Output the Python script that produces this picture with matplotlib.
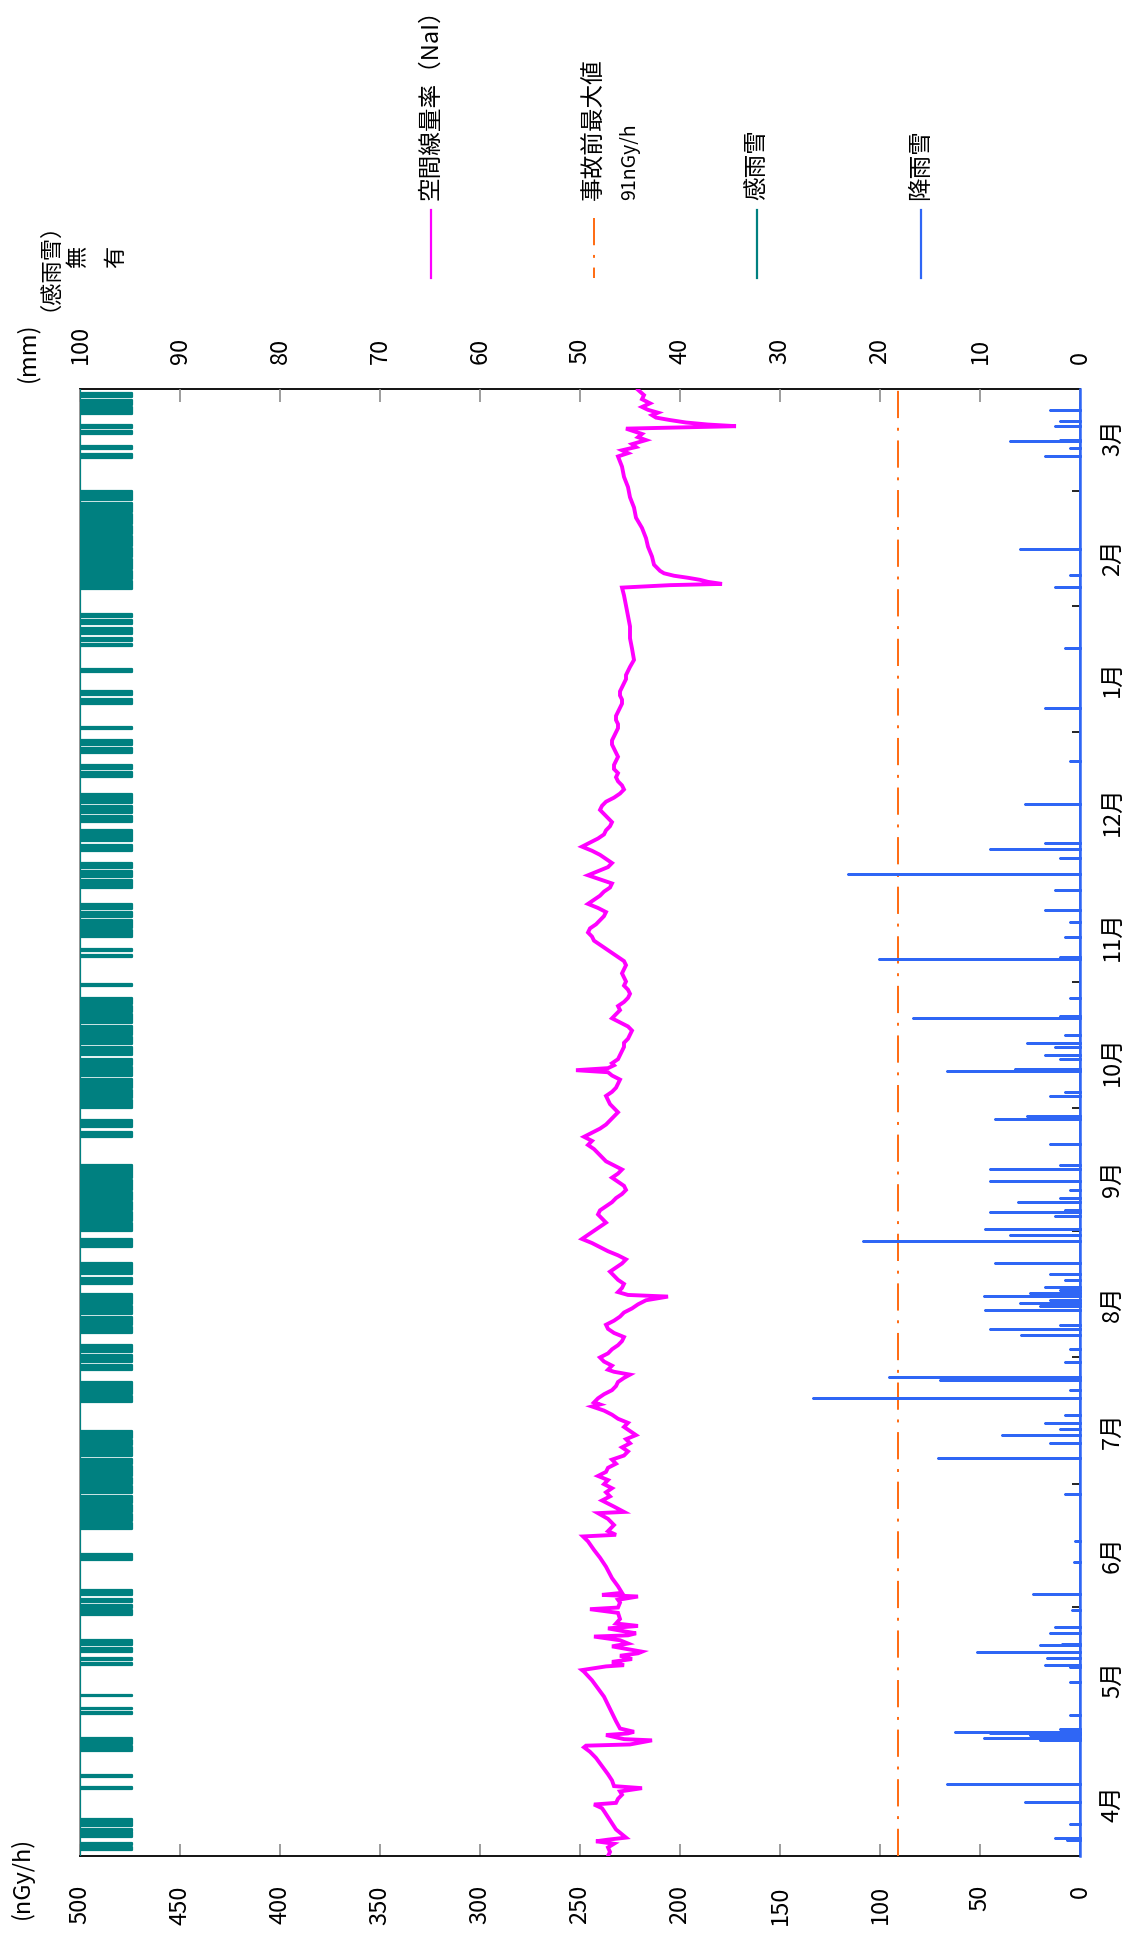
import numpy as np
import matplotlib
matplotlib.use("Agg")
import matplotlib.pyplot as plt
from matplotlib.lines import Line2D

plt.rcParams['font.family'] = ['Noto Sans CJK JP', 'DejaVu Sans']

# ---------------- data ----------------
month_labels = ['4月', '5月', '6月', '7月', '8月', '9月', '10月', '11月', '12月', '1月', '2月', '3月']
month_len = [30, 31, 30, 31, 31, 30, 31, 30, 31, 31, 28, 31]

dose_ticks = [0, 50, 100, 150, 200, 250, 300, 350, 400, 450, 500]
rain_ticks = [0, 10, 20, 30, 40, 50, 60, 70, 80, 90, 100]
pre_accident_max = 91

# air dose rate (nGy/h) : day from Apr 1, value
dose_day = [0.0, 1.0, 2.1, 3.0, 3.6, 4.0, 4.5, 5.3, 6.5, 8.0, 9.5, 11.0, 11.7, 12.6, 13.0, 14.0, 15.0,
            15.8, 16.6, 17.1, 18.5, 20.0, 22.0, 24.0, 25.5, 26.6, 27.0, 27.3, 28.3, 28.6, 29.6, 30.0,
            30.4, 31.2, 33.0, 35.0, 37.0, 39.0, 41.0, 43.0, 45.1, 45.5, 46.4, 46.7, 47.5, 48.2, 49.0,
            49.6, 50.0, 51.3, 52.0, 52.8, 53.7, 54.0, 54.5, 55.0, 55.7, 56.3, 56.9, 58.0, 59.5, 60.4,
            60.8, 62.0, 62.7, 63.5, 63.9, 64.4, 66.0, 68.0, 70.8, 73.0, 74.9, 77.0, 78.2, 78.6, 79.5,
            81.0, 82.5, 83.9, 84.2, 85.5,
            87, 88, 89, 90, 91, 92, 93, 94, 95, 96, 97, 98, 99, 100, 101, 102, 103, 104, 105, 106,
            107, 108, 109, 110, 110.5, 111, 112, 113, 114, 115, 116, 117, 117.8, 118.5, 119, 120,
            121, 122, 123, 124, 125, 126, 127, 128, 129, 130, 131, 132, 133, 134, 135, 136, 136.9,
            137.3, 138, 139, 140, 141, 142, 143, 144, 145, 146, 147, 148, 149, 150, 151, 152, 153,
            154, 155, 156, 157, 158, 159, 160, 161, 162, 163, 164, 165, 166, 167, 168, 169, 170,
            171, 172, 173, 174, 175, 176, 177, 178, 179, 180, 181, 182, 183, 184, 185, 186, 187,
            188, 189, 190, 191, 191.8, 192.3, 192.8, 193.5, 194, 195, 196, 197, 198, 199, 200, 201,
            202, 203, 204, 205, 206, 207, 208, 209, 210, 211, 212, 213, 214, 215, 216, 217, 218,
            219, 220, 221, 222, 223, 224, 225, 226, 227, 228, 229, 230, 231, 232, 233, 234, 235,
            236, 237, 238, 239, 240, 241, 242, 243, 244, 245, 246, 247, 248, 249, 250, 251, 252,
            253, 254, 255, 256, 257, 258, 259, 260, 261, 262, 263, 264, 265, 266, 267, 268, 269,
            270, 271, 272, 273, 274, 275, 276, 277, 278, 279, 280, 281, 282, 283, 284, 285, 286,
            287, 288, 289, 290, 291,
            292.7, 295.5, 298.0, 300.9, 303.5, 306.0, 308.5, 310.4, 311.0, 311.3, 311.8, 312.3, 312.8,
            313.3, 313.9, 314.5, 316.0, 318.0, 320.4, 322.5, 325.0, 327.5, 330.0, 332.5, 335.0, 337.5,
            340.0, 342.5, 343.3, 344.0, 344.8, 345.5, 346.5, 347.2, 348.0, 348.8, 349.3, 349.9, 350.3,
            350.8, 351.4, 352.0, 352.6, 353.2, 353.9, 354.6, 355.5, 356.5, 357.5, 358.8]
dose_val = [236, 235, 236, 233, 242, 236, 227, 229, 232, 234, 236, 238, 239, 243, 232, 231, 229,
            230, 219, 233, 234, 236, 239, 242, 245, 248, 247, 225, 214, 228, 237, 226,
            223, 230, 232, 234, 236, 238, 241, 244, 248, 249, 237, 228, 234, 224, 230,
            221, 219, 234, 226, 230, 243, 226, 222, 228, 236, 221, 232, 230, 231, 245,
            231, 230, 231, 221, 239, 229, 231, 234, 237, 240, 243, 246, 248.5, 232, 236,
            233, 236, 241, 228, 233,
            239, 235, 237, 234, 238, 236, 241, 237, 236, 232, 234, 228, 226, 229, 225, 227, 222, 225, 228, 226,
            231, 234, 238, 244, 240, 243, 241, 238, 234, 232, 231, 228, 225, 233, 236, 234,
            238, 240, 236, 234, 231, 229, 228, 233, 236, 237, 233, 230, 228, 224, 221, 217, 206,
            226, 231, 229, 228, 231, 233, 235, 232, 229, 227, 231, 236, 240, 244, 249, 246, 243,
            240, 237, 239, 241, 240, 237, 234, 232, 229, 227, 228, 231, 234, 231, 229, 233, 237,
            239, 241, 243, 246, 244, 248, 244, 240, 237, 235, 233, 231, 233, 235, 236, 237, 234,
            232, 231, 230, 234, 236, 252, 236, 233, 234, 231, 230, 229, 228, 228, 226, 225,
            224, 226, 230, 234, 232, 230, 231, 228, 226, 225, 226, 228, 227, 228, 229, 228, 227,
            228, 231, 234, 237, 240, 243, 244, 246, 245, 242, 240, 238, 237, 241, 246, 243, 240,
            238, 235, 234, 240, 246, 241, 236, 234, 237, 240, 244, 249, 245, 241, 238, 237, 235,
            234, 236, 238, 240, 239, 237, 233, 230, 228, 229, 231, 232, 231, 233, 233, 232, 231,
            232, 233, 234, 234, 233, 232, 231, 231, 232, 232, 231, 230, 229, 229, 230, 230, 229,
            228, 227, 227, 226, 225,
            223, 224, 225, 225, 226, 227, 228, 229, 205, 179, 186, 190, 196,
            203, 208, 210, 213, 214, 216, 217, 219, 222, 223, 225, 226, 228,
            229, 231, 226, 229, 222, 224, 217, 221, 219, 224, 227, 172, 186,
            197, 205, 212, 214, 211, 216, 219, 215, 219, 218, 221]

# precipitation (mm) events : day, amount
rain_day = [3.9, 4.5, 7.9, 13.3, 17.5, 28.4, 28.8, 29.6, 30.0, 30.4, 31.2, 34.5, 42.7, 46.3, 46.7,
            48.4, 50.0, 51.6, 51.9, 54.5, 56.1, 60.2, 64.0, 72.0, 77.0, 88.5, 97.3,
            101.0, 103.0, 104.5, 106.0, 108.0, 112.0, 114.0, 116.5, 117.3, 121.0, 124.0, 127.5,
            129.0, 130.0, 133.5, 134.5, 135.3, 136.0, 137.0, 137.8, 138.5, 139.2, 141.0, 142.5,
            145.0, 150.5, 152.0, 153.5, 156.6, 157.5, 158.0, 160.0, 161.0, 163.0, 165.3, 168.1,
            169.0, 174.2, 180.3, 181.0, 186.0, 187.0, 192.1, 192.6, 195.0, 196.0, 198.0, 199.0,
            201.0, 205.0, 205.6, 210.0, 219.5, 220.0, 225.0, 228.5, 231.6, 236.3, 240.3, 244.2,
            246.5, 248.0, 257.5, 268.0, 281.0, 295.6, 310.6, 313.5, 319.9, 342.6, 344.5, 346.2,
            346.5, 349.9, 351.2, 353.9]
rain_mm = [1.3, 2.5, 1.0, 5.5, 13.3, 4.0, 9.6, 5.0, 9.0, 12.5, 2.0, 1.0, 1.0, 1.0, 3.5,
           3.3, 10.3, 4.0, 1.8, 3.0, 2.5, 0.8, 4.7, 0.6, 0.5, 1.5, 14.2,
           3.0, 7.8, 2.0, 3.5, 1.5, 26.7, 1.0, 14.0, 19.1, 1.5, 1.0, 5.9,
           9.0, 2.0, 9.5, 4.0, 6.0, 3.0, 9.6, 5.0, 2.0, 3.5, 1.5, 3.0,
           8.5, 21.7, 7.0, 9.5, 2.5, 9.0, 1.5, 6.2, 2.0, 1.0, 9.0, 9.0,
           2.0, 3.0, 8.5, 5.3, 3.0, 1.5, 13.3, 6.5, 2.0, 3.5, 2.5, 5.3,
           1.5, 16.7, 2.0, 1.0, 20.1, 2.0, 1.5, 1.0, 3.5, 2.5, 23.2, 2.0,
           9.0, 3.5, 5.5, 1.0, 3.5, 1.5, 2.5, 1.0, 6.0, 3.5, 1.0, 7.0,
           2.0, 2.5, 2.0, 3.0]

# rain / snow sensor "on" periods (day start, day end)
sense_start = [1.5, 2.6, 4.6, 6.2, 7.4, 16.4, 19.4, 25.8, 27.4, 34.8, 35.9, 39.1, 46.7, 48.0, 49.9, 51.6,
               59.0, 60.8, 62.2, 63.8, 72.5, 80.0, 82.0, 84.2, 86.5, 88.8, 91.0, 93.0, 96.0, 97.8,
               100.5, 102.3, 111.0, 113.0, 119.0, 121.0, 123.3, 128.0, 130.0, 132.6, 135.0, 140.0,
               142.5, 149.0, 153.0, 155.5, 158.0, 160.6, 163.0, 166.0, 176.0, 178.5, 183.0, 185.6,
               188.0, 190.8, 193.5, 196.0, 198.6, 201.0, 203.8, 206.6, 208.6, 212.8, 220.0, 221.5,
               225.0, 227.2, 229.8, 231.8, 237.0, 239.5, 241.8, 246.0, 248.3, 253.0, 255.2, 257.8,
               264.0, 266.0, 270.0, 272.0, 275.8, 282.0, 284.0, 289.8, 296.0, 297.4, 299.0, 301.5,
               303.2, 310.0, 312.6, 315.0, 318.0, 320.6, 323.5, 326.0, 329.0, 331.8, 342.0, 344.2,
               348.0, 349.5, 353.0, 355.0, 357.0]
sense_end = [2.2, 3.2, 5.8, 6.6, 9.0, 16.8, 19.8, 27.0, 28.8, 35.3, 36.3, 39.5, 47.2, 48.4, 51.0, 52.9,
             60.2, 61.5, 63.0, 65.0, 74.0, 81.5, 83.6, 86.0, 88.0, 90.5, 92.4, 95.5, 97.2, 100.0,
             101.8, 104.0, 112.5, 116.0, 120.2, 122.5, 125.0, 129.5, 132.0, 134.5, 137.5, 141.5,
             145.0, 151.0, 155.0, 157.5, 160.0, 162.5, 165.5, 169.0, 177.2, 180.0, 185.0, 187.5,
             190.2, 193.0, 195.0, 198.0, 200.5, 203.2, 206.0, 208.0, 210.0, 213.4, 220.5, 222.0,
             226.5, 229.0, 231.0, 233.0, 238.8, 241.0, 243.0, 247.5, 251.0, 254.5, 257.0, 260.0,
             265.2, 267.0, 271.2, 273.0, 276.4, 283.2, 285.0, 290.4, 296.6, 298.0, 300.5, 302.4,
             304.0, 312.0, 314.5, 317.5, 320.0, 323.0, 325.5, 328.5, 331.2, 334.0, 343.2, 345.0,
             348.8, 350.2, 354.5, 356.2, 358.0]

# ---------------- figure ----------------
W, H, DPI = 1129, 1934, 100
L, R, T, B = 80, 1080, 389, 1856
DAY_MAX = 359

MAGENTA = '#FF00FF'
ORANGE = '#FF6A10'
TEAL = '#008080'
BLUE = '#2F66F5'

fig = plt.figure(figsize=(W / DPI, H / DPI), dpi=DPI)
fig.patch.set_facecolor('white')
ax = fig.add_axes([L / W, 1 - B / H, (R - L) / W, (B - T) / H])

# dose axis (horizontal, reversed)
ax.set_xlim(500, 0)
ax.set_ylim(0, DAY_MAX)
ax.set_xticks(dose_ticks)
ax.set_xticklabels([str(t) for t in dose_ticks])
ax.tick_params(axis='x', which='major', direction='in', length=9, width=1.2, color='#8c8c8c',
               labelsize=17, pad=21, labelrotation=90)

# month axis on the right
starts = np.concatenate([[0], np.cumsum(month_len)[:-1]])
mids = starts + np.array(month_len) / 2.0
ax.yaxis.tick_right()
ax.set_yticks(starts[1:])
ax.set_yticklabels([])
ax.set_yticks(mids, minor=True)
ax.set_yticklabels(month_labels, minor=True)
ax.tick_params(axis='y', which='major', direction='in', length=6, width=1.2, color='black')
ax.tick_params(axis='y', which='minor', length=0, labelsize=17, pad=15, labelrotation=90)

for s in ['top', 'bottom']:
    ax.spines[s].set_color('black')
    ax.spines[s].set_linewidth(1.3)
ax.spines['left'].set_color('#8c8c8c')
ax.spines['left'].set_linewidth(1.3)
ax.spines['right'].set_color(BLUE)
ax.spines['right'].set_linewidth(1.3)

# dose rate line
ax.plot(dose_val, dose_day, color=MAGENTA, lw=2.8, zorder=4, solid_joinstyle='miter')
# pre-accident maximum
ax.axvline(pre_accident_max, color=ORANGE, lw=1.4, dashes=(14, 5, 1.5, 5), zorder=3)

# precipitation axis (top)
axr = ax.twiny()
axr.set_xlim(100, 0)
axr.set_ylim(0, DAY_MAX)
axr.set_xticks(rain_ticks)
axr.set_xticklabels([str(t) for t in rain_ticks])
axr.tick_params(axis='x', which='major', direction='in', length=9, width=1.2, color='#8c8c8c',
                labelsize=17, pad=18, labelrotation=90)
for s in axr.spines.values():
    s.set_visible(False)
r_d = np.repeat(np.asarray(rain_day), 3)
r_v = np.column_stack([np.zeros(len(rain_mm)), rain_mm, np.zeros(len(rain_mm))]).ravel()
r_d = np.concatenate([[0.0], r_d, [DAY_MAX]])
r_v = np.concatenate([[0.0], r_v, [0.0]])
axr.plot(r_v, r_d, color=BLUE, lw=1.8, zorder=3, clip_on=False)

# rain/snow sensor
axs = ax.twiny()
axs.set_xlim(0, 1000 / 52)
axs.set_ylim(0, DAY_MAX)
axs.axis('off')
s_d, s_v = [0.0], [0.0]
for a, b in zip(sense_start, sense_end):
    s_d += [a, a, b, b]
    s_v += [0, 1, 1, 0]
s_d.append(DAY_MAX)
s_v.append(0)
axs.fill_betweenx(s_d, 0, s_v, color=TEAL, lw=0, zorder=2)
axs.plot(s_v, s_d, color=TEAL, lw=1.6, zorder=3)

# ---------------- axis titles ----------------
def ftext(x, y, s, size=16, ha='center', va='center'):
    fig.text(x / W, 1 - y / H, s, rotation=90, ha=ha, va=va, fontsize=size)

ftext(22, 1878, '(nGy/h)', 17)
ftext(27, 352, '(mm)', 17)
ftext(38, 255, '（感雨雪）', 16)
ftext(78, 257, '無', 16)
ftext(116, 257, '有', 16)

# ---------------- legend ----------------
def legline(x, y1, y2, color, **kw):
    fig.add_artist(Line2D([x / W, x / W], [1 - y1 / H, 1 - y2 / H], transform=fig.transFigure,
                          color=color, **kw))

legline(431, 210, 278, MAGENTA, lw=1.6)
ftext(431, 200, '空間線量率（NaI）', 17, va='bottom')
legline(594, 218, 278, ORANGE, lw=1.4, dashes=(14, 5, 1.5, 5))
ftext(594, 200, '事故前最大値', 17, va='bottom')
ftext(630, 200, '91nGy/h', 14, va='bottom')
legline(757, 210, 278, TEAL, lw=1.6)
ftext(757, 200, '感雨雪', 17, va='bottom')
legline(921, 210, 278, BLUE, lw=1.6)
ftext(921, 200, '降雨雪', 17, va='bottom')

fig.savefig('out.png', dpi=DPI, facecolor='white')
